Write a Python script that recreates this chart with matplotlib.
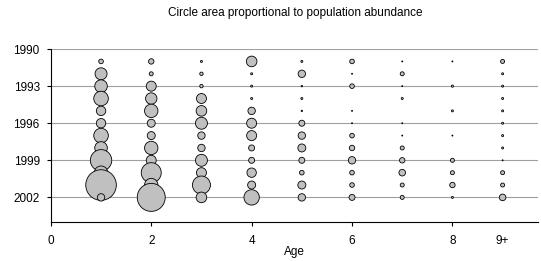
import numpy as np
import matplotlib.pyplot as plt

plt.rcParams['font.family'] = ['Liberation Sans', 'DejaVu Sans']

years = list(range(1991, 2003))
ages = [1, 2, 3, 4, 5, 6, 7, 8, 9]
age_labels = ['0', '2', '4', '6', '8', '9+']

# relative abundance per age (rows follow years 1991..2002)
abund = {
    1: [53, 360, 397, 533, 221, 221, 533, 397, 1145, 449, 2341, 137],
    2: [73, 40, 250, 325, 449, 160, 160, 449, 250, 1000, 449, 1960],
    3: [10, 29, 29, 250, 281, 360, 137, 137, 360, 250, 810, 281],
    4: [281, 10, 10, 10, 137, 250, 250, 90, 90, 221, 160, 593],
    5: [10, 137, 5, 10, 5, 90, 137, 160, 90, 53, 160, 137],
    6: [53, 2.5, 53, 0, 2.5, 2.5, 53, 73, 137, 53, 53, 90],
    7: [2.5, 40, 2.5, 10, 0, 2.5, 2.5, 40, 73, 109, 40, 40],
    8: [2.5, 0, 12, 0, 10, 0, 2.5, 0, 40, 40, 73, 10],
    9: [40, 10, 10, 10, 10, 10, 10, 10, 2.5, 40, 40, 109],
}


def main():
    fig = plt.figure(figsize=(5.41, 2.61), dpi=100)
    ax = fig.add_axes([0.094, 0.149, 0.9, 0.663])

    for a in ages:
        v = np.array(abund[a], dtype=float)
        yr = np.array(years)
        keep = v > 0
        ax.scatter(np.full(keep.sum(), a), yr[keep], s=v[keep] * 0.207,
                   c='#c0c0c0', edgecolors='black', linewidths=0.6, zorder=3)

    ax.set_xlim(0, 9.7)
    ax.set_ylim(2004, 1990)
    ax.set_yticks([1990, 1993, 1996, 1999, 2002])
    ax.set_xticks([0, 2, 4, 6, 8, 9])
    ax.set_xticklabels(age_labels)
    ax.xaxis.get_major_ticks()[-1].tick1line.set_visible(False)
    ax.grid(axis='y', color='#a0a0a0', linewidth=0.8, zorder=0)
    ax.set_axisbelow(True)
    for side in ['top', 'right']:
        ax.spines[side].set_visible(False)
    ax.spines['left'].set_linewidth(0.8)
    ax.spines['bottom'].set_linewidth(0.8)
    ax.tick_params(labelsize=8.5, length=3, width=0.8)
    ax.tick_params(axis='x', pad=6.5)
    ax.tick_params(axis='y', pad=5)
    ax.set_xlabel('Age', fontsize=8.5, labelpad=-1)
    fig.text(0.545, 0.95, 'Circle area proportional to population abundance',
             ha='center', va='center', fontsize=8.5)
    fig.savefig('out.png', dpi=100)


if __name__ == "__main__":
    main()
